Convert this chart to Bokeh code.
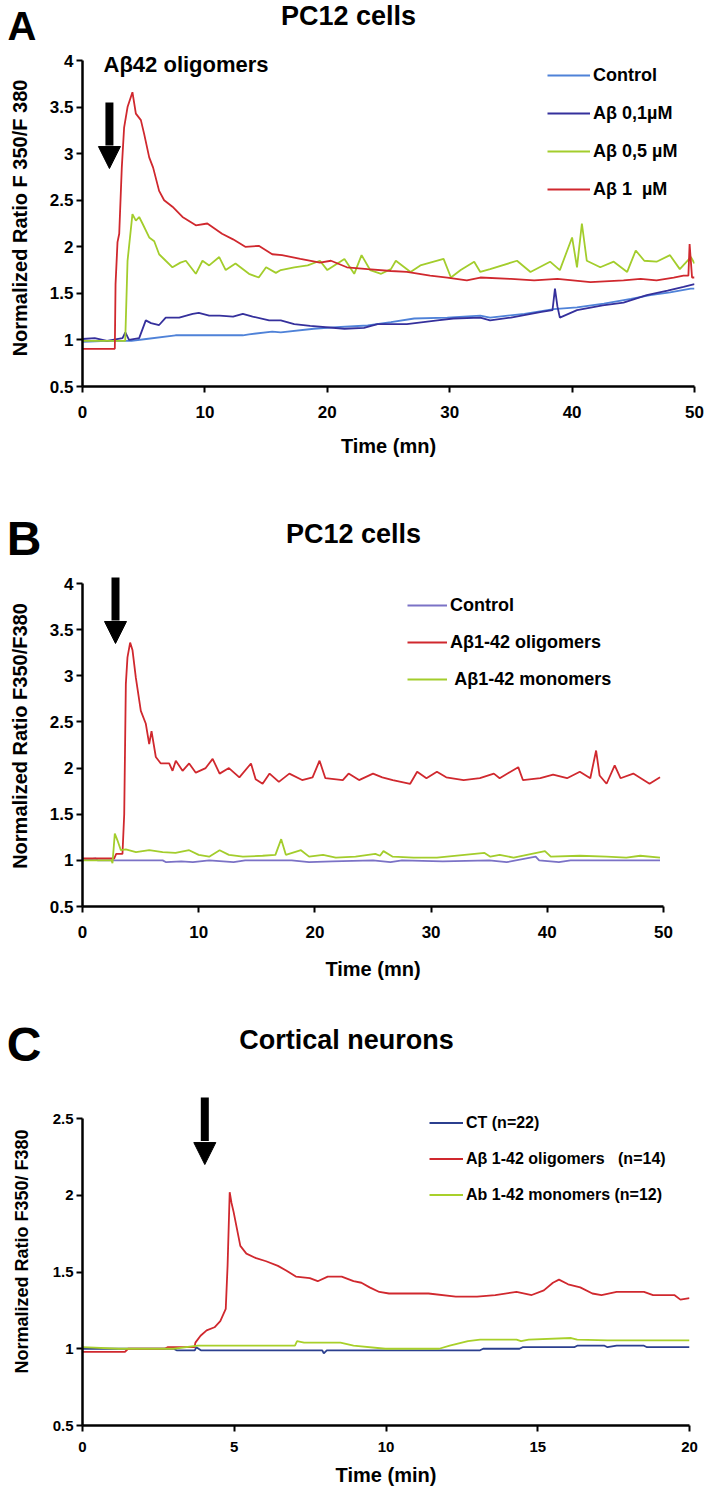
from bokeh.plotting import figure
from bokeh.models import Range1d, FixedTicker, NumeralTickFormatter, Label, Arrow, NormalHead
from bokeh.layouts import column
from bokeh.embed import file_html
from bokeh.resources import INLINE

FONT = "Liberation Sans"
PAGE_W = 705
LEFT = 82  # common left border of every panel (frames are aligned in a column)

# ---------------- Panel A data (PC12 cells, Abeta42 oligomer doses) ----------------
a_ctrl_t = [0, 2.0, 4.0, 5.2, 7.6, 13.1, 13.6, 15.5, 16.2, 18.9, 21.1, 23.3, 25.2, 27.1, 29.8, 32.5,
            33.3, 36.1, 38.5, 40.4, 42.6, 44.8, 46.4, 48.0, 49.7, 50]
a_ctrl_v = [0.98, 0.99, 0.99, 1.01, 1.05, 1.05, 1.06, 1.09, 1.08, 1.12, 1.14, 1.155, 1.19, 1.23, 1.24, 1.26,
            1.24, 1.28, 1.33, 1.35, 1.39, 1.44, 1.48, 1.51, 1.55, 1.55]

a_01_t = [0, 1.0, 2.0, 3.27, 3.5, 3.8, 4.63, 5.17, 5.6, 6.26, 6.8, 7.9, 9.0, 9.5, 10.35, 11.2, 12.3, 13.1,
          13.9, 15.25, 16.2, 17.3, 18.6, 21.4, 23.0, 24.1, 26.5, 29.0, 30.3, 32.5, 33.3, 35.0, 37.5, 38.4,
          38.6, 38.8, 39.0, 40.4, 42.5, 44.2, 46.1, 47.8, 49.1, 50]
a_01_v = [1.01, 1.02, 0.99, 1.02, 1.08, 1.0, 1.02, 1.21, 1.18, 1.16, 1.24, 1.24, 1.28, 1.29, 1.26, 1.26, 1.25,
          1.28, 1.25, 1.21, 1.21, 1.17, 1.15, 1.12, 1.13, 1.17, 1.17, 1.21, 1.23, 1.24, 1.21, 1.24, 1.30, 1.32,
          1.55, 1.36, 1.24, 1.32, 1.37, 1.40, 1.48, 1.53, 1.57, 1.60]

a_05_t = [0, 3.49, 3.68, 4.08, 4.36, 4.63, 4.9, 5.45, 5.86, 6.26, 6.8, 7.35, 8.0, 8.44, 9.26, 9.8, 10.35,
          11.17, 11.7, 12.5, 13.6, 14.4, 15.0, 15.8, 16.2, 17.3, 18.4, 19.4, 20.0, 21.4, 22.2, 22.8, 23.5,
          24.4, 25.2, 25.6, 26.8, 27.6, 29.5, 30.1, 30.9, 32.0, 32.5, 33.3, 35.5, 36.6, 38.2, 39.0, 40.0,
          40.4, 40.8, 41.2, 42.3, 43.4, 44.5, 45.2, 45.9, 46.9, 48.0, 48.8, 49.7, 50]
a_05_v = [0.99, 0.99, 1.85, 2.35, 2.28, 2.32, 2.25, 2.10, 2.06, 1.92, 1.85, 1.78, 1.83, 1.85, 1.71, 1.85, 1.80,
          1.89, 1.75, 1.82, 1.71, 1.67, 1.78, 1.72, 1.75, 1.78, 1.80, 1.85, 1.75, 1.87, 1.71, 1.91, 1.75,
          1.71, 1.76, 1.85, 1.73, 1.80, 1.87, 1.67, 1.75, 1.84, 1.73, 1.76, 1.85, 1.73, 1.84, 1.75, 2.10,
          1.78, 2.25, 1.85, 1.78, 1.84, 1.73, 1.96, 1.85, 1.84, 1.91, 1.76, 1.89, 1.82]

a_1_t = [0, 2.64, 2.70, 2.86, 3.0, 3.21, 3.40, 3.68, 4.08, 4.36, 4.77, 5.04, 5.45, 5.77, 6.26, 6.67, 7.35,
         8.17, 9.26, 10.2, 11.4, 12.3, 13.3, 14.4, 15.5, 16.3, 17.8, 19.4, 20.3, 21.6, 23.3, 25.2, 26.5,
         28.4, 29.8, 31.4, 32.5, 35.0, 36.9, 38.8, 41.5, 44.2, 45.6, 46.9, 48.3, 49.1, 49.5, 49.6, 49.8, 50]
a_1_v = [0.905, 0.905, 1.60, 2.05, 2.14, 2.85, 3.28, 3.50, 3.66, 3.43, 3.36, 3.21, 2.96, 2.85, 2.60, 2.50, 2.43,
         2.32, 2.23, 2.25, 2.14, 2.08, 2.0, 2.01, 1.92, 1.91, 1.87, 1.83, 1.85, 1.78, 1.76, 1.74, 1.73,
         1.69, 1.67, 1.64, 1.67, 1.655, 1.64, 1.655, 1.62, 1.64, 1.655, 1.64, 1.67, 1.69, 1.69, 2.03, 1.67, 1.67]

# ---------------- Panel B data (PC12 cells, oligomers vs monomers) ----------------
b_ctrl_t = [0, 1.15, 1.3, 6.9, 7.2, 8.5, 9.5, 10.9, 13.0, 14.0, 18.0, 19.5, 21.5, 25, 26.5, 27.5, 31, 35,
            36.5, 39.0, 39.3, 41, 42, 49.7]
b_ctrl_v = [1.0, 1.02, 1.0, 1.0, 0.98, 0.99, 0.98, 1.0, 0.98, 1.0, 1.0, 0.98, 0.99, 1.0, 0.98, 1.0, 0.99, 1.0,
            0.98, 1.04, 1.0, 0.98, 1.0, 1.0]

b_olig_t = [0, 2.73, 2.9, 3.44, 3.59, 3.73, 3.87, 4.10, 4.30, 4.59, 5.02, 5.45, 5.74, 5.94, 6.31, 6.74, 7.46,
            7.75, 8.03, 8.61, 9.18, 9.75, 10.6, 11.2, 11.8, 12.6, 13.5, 14.5, 14.9, 15.5, 16.1, 16.9, 17.8,
            18.9, 19.8, 20.4, 20.9, 22.4, 22.9, 23.8, 25.0, 25.8, 26.7, 28.2, 28.8, 29.6, 30.5, 31.3, 32.8,
            34.2, 35.4, 35.9, 37.5, 37.9, 39.4, 40.5, 41.7, 42.8, 43.7, 44.2, 44.5, 45.1, 45.8, 46.3, 47.4,
            48.8, 49.7]
b_olig_v = [1.02, 1.02, 1.07, 1.07, 1.50, 2.91, 3.20, 3.36, 3.28, 2.98, 2.62, 2.48, 2.26, 2.40, 2.12, 2.05, 2.05,
            1.97, 2.08, 1.97, 2.05, 1.95, 2.0, 2.10, 1.94, 2.0, 1.90, 2.05, 1.88, 1.83, 1.94, 1.85, 1.94,
            1.87, 1.90, 2.08, 1.89, 1.87, 1.94, 1.87, 1.94, 1.90, 1.87, 1.83, 1.96, 1.89, 1.96, 1.90, 1.87,
            1.89, 1.94, 1.89, 2.01, 1.87, 1.89, 1.93, 1.89, 1.96, 1.89, 2.19, 1.92, 1.83, 2.03, 1.89, 1.94,
            1.83, 1.90]

b_mono_t = [0, 2.5, 2.58, 2.78, 3.0, 3.3, 3.73, 4.6, 5.74, 6.9, 8.0, 9.18, 10.0, 10.9, 11.8, 12.6, 13.8,
            15.5, 16.6, 17.1, 17.5, 18.8, 19.5, 20.7, 21.8, 23.5, 25.2, 25.6, 25.9, 26.7, 28.5, 30.5, 34.6,
            35.1, 35.9, 37.1, 39.8, 40.3, 42.8, 45.1, 46.8, 48.0, 49.7]
b_mono_v = [1.0, 1.0, 0.97, 1.29, 1.22, 1.11, 1.12, 1.09, 1.11, 1.09, 1.08, 1.11, 1.06, 1.04, 1.11, 1.06, 1.04,
            1.05, 1.06, 1.23, 1.06, 1.11, 1.04, 1.06, 1.03, 1.04, 1.07, 1.05, 1.10, 1.04, 1.03, 1.03, 1.08,
            1.04, 1.06, 1.03, 1.10, 1.04, 1.05, 1.04, 1.03, 1.05, 1.03]

# ---------------- Panel C data (cortical neurons) ----------------
c_ct_t = [0, 3.0, 3.1, 3.7, 3.75, 3.9, 7.9, 7.95, 8.05, 13.1, 13.2, 14.4, 14.5, 16.2, 16.3, 17.2, 17.3,
          17.6, 18.5, 18.6, 20]
c_ct_v = [1.0, 1.0, 0.99, 0.99, 1.01, 0.99, 0.99, 0.97, 0.99, 0.99, 1.0, 1.0, 1.01, 1.01, 1.02, 1.02, 1.01,
          1.02, 1.02, 1.01, 1.01]

c_olig_t = [0, 1.4, 1.5, 2.71, 2.8, 3.69, 3.72, 3.89, 4.09, 4.35, 4.54, 4.72, 4.78, 4.85, 4.91, 4.98, 5.20,
            5.40, 5.72, 6.05, 6.44, 6.71, 7.03, 7.49, 7.75, 8.08, 8.54, 8.93, 9.19, 9.46, 9.78, 10.1, 11.4,
            12.3, 13.0, 13.6, 14.3, 14.8, 15.2, 15.5, 15.7, 16.0, 16.4, 16.8, 17.1, 17.6, 18.5, 18.8, 19.5,
            19.7, 20]
c_olig_v = [0.98, 0.98, 1.0, 1.0, 1.01, 1.01, 1.04, 1.085, 1.12, 1.14, 1.18, 1.26, 1.54, 2.02, 1.95, 1.89, 1.67,
            1.62, 1.59, 1.57, 1.54, 1.51, 1.47, 1.46, 1.44, 1.47, 1.47, 1.44, 1.43, 1.40, 1.37, 1.36, 1.36,
            1.34, 1.34, 1.35, 1.37, 1.35, 1.38, 1.43, 1.45, 1.42, 1.40, 1.36, 1.35, 1.37, 1.37, 1.35, 1.35,
            1.32, 1.33]

c_mono_t = [0, 1.2, 3.0, 3.8, 7.0, 7.07, 7.3, 8.5, 8.93, 9.98, 11.75, 12.1, 12.7, 13.1, 14.3, 14.45, 14.7,
            16.1, 16.3, 17.3, 20]
c_mono_v = [1.01, 1.0, 1.0, 1.02, 1.02, 1.05, 1.04, 1.04, 1.02, 1.0, 1.0, 1.02, 1.05, 1.06, 1.06, 1.05, 1.06,
            1.07, 1.06, 1.055, 1.055]

# labels / ticks
a_labels = ["Control", "Aβ 0,1µM", "Aβ 0,5 µM", "Aβ 1  µM"]
b_labels = ["Control", "Aβ1-42 oligomers", " Aβ1-42 monomers"]
c_labels = ["CT (n=22)", "Aβ 1-42 oligomers   (n=14)", "Ab 1-42 monomers (n=12)"]
a_ticks_x = [0, 10, 20, 30, 40, 50]
ab_ticks_y = [0.5, 1, 1.5, 2, 2.5, 3, 3.5, 4]
c_ticks_x = [0, 5, 10, 15, 20]
c_ticks_y = [0.5, 1, 1.5, 2, 2.5]

# arrow (time of application): x, shaft top, tip
a_arrow = (2.2, 3.55, 2.84)
b_arrow = (2.84, 4.065, 3.35)
c_arrow = (4.03, 2.637, 2.20)


def header(letter, title, height, letter_mid, letter_size, letter_standoff, title_x, title_base):
    fw = PAGE_W - LEFT
    h = figure(frame_width=fw, frame_height=height, min_border_left=LEFT, min_border_right=0,
               min_border_top=0, min_border_bottom=0, title=None,
               x_range=Range1d(LEFT, PAGE_W), y_range=Range1d(0, height),
               x_axis_type=None, output_backend="svg", toolbar_location=None, tools="")
    h.outline_line_color = None
    h.xgrid.visible = False
    h.ygrid.visible = False
    # the panel letter is drawn as the only tick label of an invisible left axis
    ya = h.yaxis[0]
    ya.ticker = FixedTicker(ticks=[letter_mid])
    ya.major_label_overrides = {letter_mid: letter}
    ya.axis_line_color = None
    ya.major_tick_line_color = None
    ya.minor_tick_line_color = None
    ya.major_tick_out = 0
    ya.major_tick_in = 0
    ya.major_label_standoff = letter_standoff
    ya.major_label_text_font = FONT
    ya.major_label_text_font_style = "bold"
    ya.major_label_text_font_size = letter_size
    ya.major_label_text_color = "black"
    h.add_layout(Label(x=title_x, y=title_base, text=title, text_font=FONT, text_font_style="bold",
                       text_font_size="27px", text_color="black", text_baseline="alphabetic",
                       text_align="center"))
    return h


def chart(xlabel, ylabel, xmax, xticks, ymin, ymax, yticks, series, geom, leg, arrow,
          ylab_size, tick_size, x_std, x_lab_std, y_lab_std):
    # geom: frame_width, frame_height, pixels of frame above the axis top, bottom border
    fw, fh, extra_top, bottom = geom
    axis_px = fh - extra_top
    y_hi = ymax + extra_top * (ymax - ymin) / axis_px
    p = figure(frame_width=fw, frame_height=fh, min_border_left=LEFT, min_border_top=0,
               min_border_right=PAGE_W - LEFT - fw, min_border_bottom=bottom, title=None,
               x_range=Range1d(0, xmax), y_range=Range1d(ymin, y_hi),
               output_backend="svg", toolbar_location=None, tools="")
    p.outline_line_color = None
    p.xgrid.visible = False
    p.ygrid.visible = False
    p.xaxis.ticker = FixedTicker(ticks=xticks)
    p.yaxis.ticker = FixedTicker(ticks=yticks)
    p.yaxis.bounds = (ymin, ymax)
    p.yaxis.formatter = NumeralTickFormatter(format="0.[0]")
    for ax in (p.xaxis[0], p.yaxis[0]):
        ax.axis_line_width = 2.5
        ax.axis_line_color = "black"
        ax.major_tick_line_width = 2
        ax.major_tick_line_color = "black"
        ax.major_tick_out = 6
        ax.major_tick_in = 0
        ax.minor_tick_line_color = None
        ax.major_label_text_font = FONT
        ax.major_label_text_font_style = "bold"
        ax.major_label_text_font_size = tick_size
        ax.major_label_text_color = "black"
        ax.axis_label_text_font = FONT
        ax.axis_label_text_font_style = "bold"
        ax.axis_label_text_color = "black"
    p.xaxis.axis_label = xlabel
    p.yaxis.axis_label = ylabel
    p.xaxis.axis_label_text_font_size = "20px"
    p.yaxis.axis_label_text_font_size = ylab_size
    p.xaxis.major_label_standoff = x_std
    p.yaxis.major_label_standoff = 3
    p.xaxis.axis_label_standoff = x_lab_std
    p.yaxis.axis_label_standoff = y_lab_std

    for t, v, color, lab in series:
        p.line(t, v, line_color=color, line_width=1.8, legend_label=lab)

    lx, ly, gw, lh, sp, lsize = leg
    L = p.legend[0]
    L.location = (lx, ly)
    L.glyph_width = gw
    L.glyph_height = lh
    L.label_height = lh
    L.spacing = sp
    L.padding = 0
    L.margin = 0
    L.label_standoff = 3
    L.border_line_color = None
    L.background_fill_alpha = 0
    L.label_text_font = FONT
    L.label_text_font_style = "bold"
    L.label_text_font_size = lsize
    L.label_text_color = "black"

    ax_x, y_top, y_tip = arrow
    head_px = 22
    y_base = y_tip + head_px * (ymax - ymin) / axis_px
    p.add_layout(Arrow(end=None, x_start=ax_x, y_start=y_top, x_end=ax_x, y_end=y_base + 0.01,
                       line_width=8, line_color="black"))
    p.add_layout(Arrow(end=NormalHead(size=head_px, fill_color="black", line_color="black", line_width=1),
                       x_start=ax_x, y_start=y_base, x_end=ax_x, y_end=y_tip,
                       line_alpha=0, line_width=1))
    return p


hA = header("A", "PC12 cells", 49, 24, "40px", 46, 348, 34)
pA = chart("Time (mn)", "Normalized Ratio F 350/F 380", 50, a_ticks_x, 0.5, 4, ab_ticks_y,
           [(a_ctrl_t, a_ctrl_v, "#4f82d8", a_labels[0]),
            (a_01_t, a_01_v, "#35309c", a_labels[1]),
            (a_05_t, a_05_v, "#a3cd2c", a_labels[2]),
            (a_1_t, a_1_v, "#d0282e", a_labels[3])],
           (612, 337, 11, 104), (465, 186, 43, 22, 16, "18px"), a_arrow,
           "20px", "17px", 13, 14, 16)
pA.add_layout(Label(x=1.72, y=3.955, text="Aβ42 oligomers", text_font=FONT, text_font_style="bold",
                    text_font_size="22px", text_color="black", text_baseline="alphabetic"))

hB = header("B", "PC12 cells", 75, 26, "48px", 41, 353, 32)
pB = chart("Time (mn)", "Normalized Ratio F350/F380", 50, a_ticks_x, 0.5, 4, ab_ticks_y,
           [(b_ctrl_t, b_ctrl_v, "#7b72c6", b_labels[0]),
            (b_olig_t, b_olig_v, "#d0282e", b_labels[1]),
            (b_mono_t, b_mono_v, "#a3cd2c", b_labels[2])],
           (581, 341, 18, 74), (325, 216, 40, 22, 15, "18px"), b_arrow,
           "20px", "17px", 13, 17, 16)

hC = header("C", "Cortical neurons", 90, 25, "48px", 41, 346, 33)
pC = chart("Time (min)", "Normalized  Ratio F350/ F380", 20, c_ticks_x, 0.5, 2.5, c_ticks_y,
           [(c_ct_t, c_ct_v, "#2b3f8e", c_labels[0]),
            (c_olig_t, c_olig_v, "#d0282e", c_labels[1]),
            (c_mono_t, c_mono_v, "#a8d02a", c_labels[2])],
           (607, 353, 46, 65), (347, 220, 34, 21, 15, "16px"), c_arrow,
           "18px", "15px", 10, 9, 18)

layout = column(hA, pA, hB, pB, hC, pC, spacing=0)
open("out.html", "w").write(file_html(layout, INLINE))
